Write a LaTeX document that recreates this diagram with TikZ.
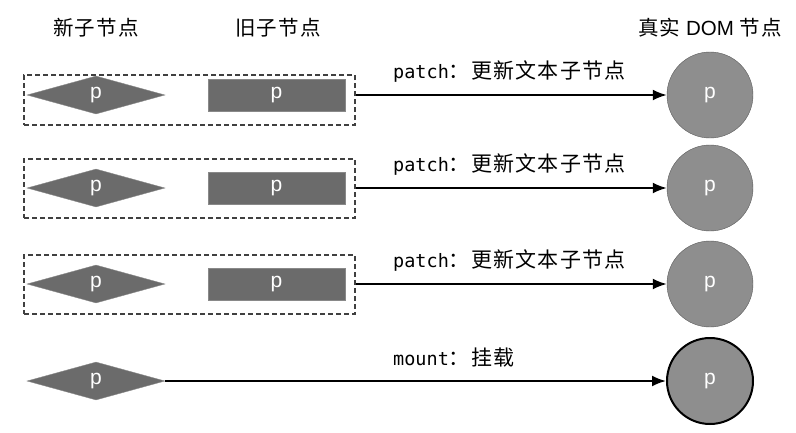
\documentclass[tikz,border=0pt]{standalone}
\usepackage{fontspec}
\setmainfont{Liberation Sans}
\setmonofont{DejaVu Sans Mono}
\newfontfamily\cjk[LetterSpace=6]{Noto Sans CJK SC}
\usetikzlibrary{shapes.geometric,arrows.meta,positioning}

\definecolor{shapegray}{HTML}{6B6B6B}
\definecolor{circgray}{HTML}{8E8E8E}
\definecolor{edgegray}{HTML}{5A5A5A}

\newcommand{\codeword}[1]{{\ttfamily\fontsize{18.5}{22}\selectfont #1}}

\begin{document}
\begin{tikzpicture}[
x=1pt, y=-1pt,
head/.style={
  font=\fontsize{20.5}{24}\selectfont
  },
newnode/.style={
  diamond,
  fill=shapegray,
  draw=shapegray!80!white,
  minimum width=138pt,
  minimum height=38pt,
  inner sep=0pt,
  text=white,
  font=\fontsize{21}{24}\selectfont
  },
oldnode/.style={
  rectangle,
  fill=shapegray,
  draw=shapegray!80!white,
  minimum width=137pt,
  minimum height=32pt,
  inner sep=0pt,
  text=white,
  font=\fontsize{21}{24}\selectfont
  },
domnode/.style={
  circle,
  fill=circgray,
  draw=edgegray,
  minimum size=86pt,
  inner sep=0pt,
  text=white,
  font=\fontsize{21}{24}\selectfont
  },
group/.style={
  draw=black!75,
  dash pattern=on 5pt off 3pt,
  line width=1.2pt,
  minimum width=331pt,
  inner sep=0pt
  },
tag/.style={
  anchor=west,
  inner sep=0pt,
  font=\fontsize{21}{24}\selectfont
  },
link/.style={
  -{Latex[length=14pt,width=11pt]},
  line width=2pt
  }
]
\useasboundingbox (0,0) rectangle (796,432);

% column heads
\node[head] (hnew) at (96,28) {\cjk 新子节点};
\node[head] (hold) at (278,28) {\cjk 旧子节点};
\node[head] (hdom) at (710,28) {{\cjk 真实} DOM {\cjk 节点}};

% patched rows
\foreach \r/\y/\c/\h in {1/95/100/50, 2/188/188.5/59, 3/284/284.5/59}
{
  \node[group, minimum height=\h pt] (grp\r) at (189.5,\c) {};
  \node[newnode] (new\r) at (96,\y) {p};
  \node[oldnode] (old\r) at (276.5,\y) {p};
  \node[domnode] (dom\r) at (710,\y) {p};
  \draw[link] (grp\r.east |- dom\r.west) -- (dom\r.west);
  \node[tag] (lab\r) at (393,\y-23) {\codeword{patch}{\cjk ：更新文本子节点}};
}

% mounted row
\node[newnode] (new4) at (96,381) {p};
\node[domnode, draw=black, line width=2pt] (dom4) at (710,381) {p};
\draw[link] (new4.east) -- (dom4.west);
\node[tag] (lab4) at (393,358) {\codeword{mount}{\cjk ：挂载}};

\end{tikzpicture}
\end{document}
